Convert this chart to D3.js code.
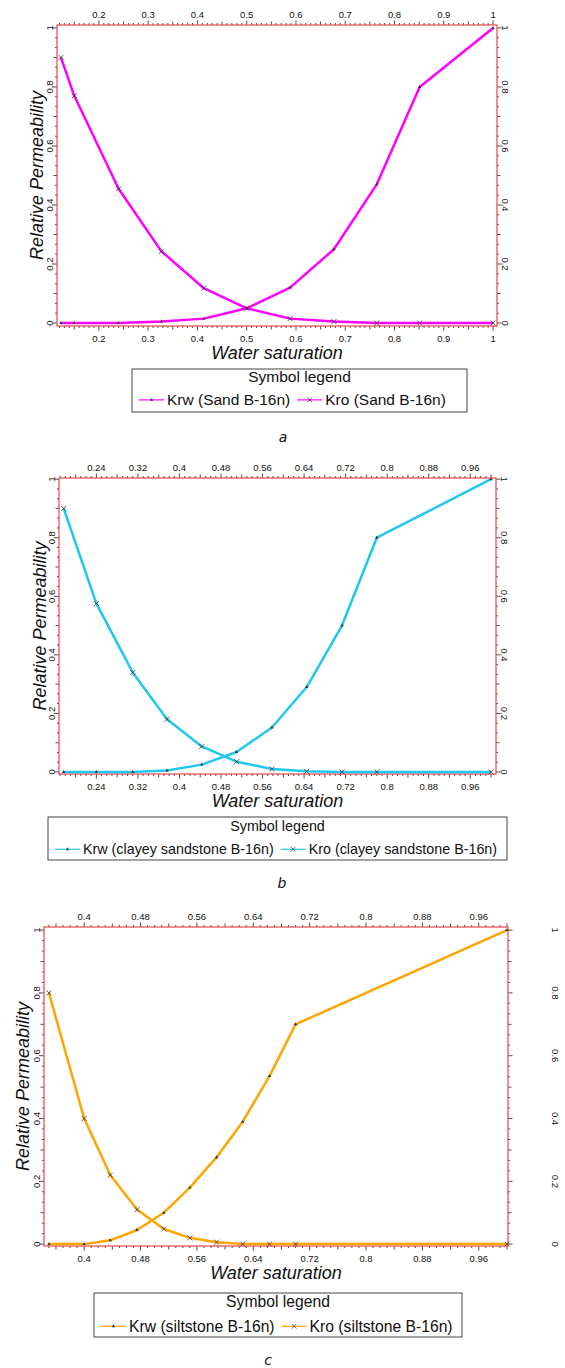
<!DOCTYPE html>
<html><head><meta charset="utf-8">
<script src="https://cdn.jsdelivr.net/npm/d3@7"></script>
<style>body{margin:0;background:#fff}svg{display:block}</style>
</head><body>
<script>
// ---- data ----
const swA  = [0.123,0.15,0.24,0.327,0.413,0.5,0.588,0.677,0.764,0.851,1.0];
const krwA = [0,0,0,0.005,0.015,0.05,0.12,0.25,0.47,0.8,1.0];
const kroA = [0.9,0.77,0.455,0.243,0.118,0.05,0.015,0.005,0,0,0];

const swB  = [0.177,0.24,0.31,0.376,0.443,0.51,0.578,0.645,0.713,0.78,1.0];
const krwB = [0,0,0,0.005,0.025,0.068,0.152,0.29,0.5,0.8,1.0];
const kroB = [0.9,0.575,0.34,0.18,0.087,0.035,0.01,0.002,0,0,0];

const swC  = [0.35,0.40,0.437,0.475,0.513,0.55,0.588,0.625,0.663,0.70,1.0];
const krwC = [0,0,0.012,0.045,0.1,0.18,0.277,0.39,0.535,0.70,1.0];
const kroC = [0.8,0.40,0.22,0.11,0.048,0.02,0.006,0,0,0,0];

const xTicksA = [0.2,0.3,0.4,0.5,0.6,0.7,0.8,0.9,1];
const xTicksB = [0.24,0.32,0.4,0.48,0.56,0.64,0.72,0.8,0.88,0.96];
const xTicksC = [0.4,0.48,0.56,0.64,0.72,0.8,0.88,0.96];
const yTicks = [0,0.2,0.4,0.6,0.8,1];
const namesA = ["Krw (Sand B-16n)","Kro (Sand B-16n)"];
const namesB = ["Krw (clayey sandstone B-16n)","Kro (clayey sandstone B-16n)"];
const namesC = ["Krw (siltstone B-16n)","Kro (siltstone B-16n)"];

const svg = d3.select("body").append("svg").attr("width",565).attr("height",1368);
const FONT = "'Liberation Sans', Arial, sans-serif";

function panel(cfg){
  const g = svg.append("g");
  const x = d3.scaleLinear().domain(cfg.xd).range([cfg.L,cfg.R]);
  const y = d3.scaleLinear().domain(cfg.yd).range([cfg.B,cfg.T]);
  const fmt = v => String(+v.toFixed(3));
  const [x0,x1] = cfg.xd;
  const minorX = d3.range(Math.ceil(x0*100), Math.floor(x1*100)+1).map(i=>i/100);
  const tk = g.append("g").attr("stroke","#222").attr("stroke-width",0.8);
  minorX.forEach(v=>{
    const isMaj = cfg.xt.some(t=>Math.abs(t-v)<1e-6);
    const isMed = !isMaj && Math.abs(v*cfg.medX - Math.round(v*cfg.medX))<1e-6;
    const len = isMaj?4.5:(isMed?3.5:2);
    tk.append("line").attr("x1",x(v)).attr("x2",x(v)).attr("y1",cfg.T).attr("y2",cfg.T-len);
    tk.append("line").attr("x1",x(v)).attr("x2",x(v)).attr("y1",cfg.B).attr("y2",cfg.B+len);
  });
  const minorY = d3.range(0,31).map(i=>i/30);
  minorY.forEach(v=>{
    const isMaj = Math.abs(v*5-Math.round(v*5))<1e-6;
    const isMed = !isMaj && Math.abs(v*10-Math.round(v*10))<1e-6;
    const len = isMaj?4.5:(isMed?3.5:2);
    tk.append("line").attr("y1",y(v)).attr("y2",y(v)).attr("x1",cfg.L).attr("x2",cfg.L-len);
    tk.append("line").attr("y1",y(v)).attr("y2",y(v)).attr("x1",cfg.R).attr("x2",cfg.R+len);
  });
  g.append("rect").attr("x",cfg.L).attr("y",cfg.T).attr("width",cfg.R-cfg.L).attr("height",cfg.B-cfg.T)
    .attr("fill","none").attr("stroke","#e8464b").attr("stroke-width",1.2);
  const lab = g.append("g").attr("font-family",FONT).attr("font-size",9.5).attr("fill","#111").attr("text-anchor","middle");
  cfg.xt.forEach(v=>{
    lab.append("text").attr("x",x(v)).attr("y",cfg.T-7).text(fmt(v));
    lab.append("text").attr("x",x(v)).attr("y",cfg.B+16).text(fmt(v));
  });
  yTicks.forEach(v=>{
    lab.append("text").attr("transform",`translate(${cfg.L-4},${y(v)}) rotate(-90)`).text(fmt(v));
    lab.append("text").attr("transform",`translate(${cfg.rightLabX},${y(v)}) rotate(90)`).text(fmt(v));
  });
  g.append("text").attr("x",(cfg.L+cfg.R)/2).attr("y",cfg.B+33).attr("text-anchor","middle")
    .attr("font-family",FONT).attr("font-size",18).attr("font-style","italic").attr("fill","#111").text("Water saturation");
  g.append("text").attr("transform",`translate(${cfg.yTitleX},${(cfg.T+cfg.B)/2}) rotate(-90)`).attr("text-anchor","middle")
    .attr("font-family",FONT).attr("font-size",18).attr("font-style","italic").attr("fill","#111").text("Relative Permeability");
  const line = d3.line().x(d=>x(d[0])).y(d=>y(d[1]));
  const dw = cfg.sw.map((s,i)=>[s,cfg.krw[i]]);
  const dor = cfg.sw.map((s,i)=>[s,cfg.kro[i]]);
  [dw,dor].forEach(d=>g.append("path").attr("d",line(d)).attr("fill","none").attr("stroke",cfg.color).attr("stroke-width",2.5).attr("stroke-linejoin","round"));
  dw.forEach(d=>g.append("path").attr("d",d3.symbol(d3.symbolTriangle,5)()).attr("transform",`translate(${x(d[0])},${y(d[1])})`).attr("fill","#333"));
  dor.forEach(d=>{
    const cx=x(d[0]), cy=y(d[1]), s=2.5;
    g.append("path").attr("d",`M${cx-s},${cy-s}L${cx+s},${cy+s}M${cx-s},${cy+s}L${cx+s},${cy-s}`).attr("stroke","#333").attr("stroke-width",0.8);
  });
  const lg = cfg.leg;
  g.append("rect").attr("x",lg.x).attr("y",lg.y).attr("width",lg.w).attr("height",lg.h).attr("fill","#fff").attr("stroke","#444").attr("stroke-width",1);
  g.append("text").attr("x",lg.x+lg.w/2).attr("y",lg.y+lg.b1).attr("text-anchor","middle").attr("font-family",FONT).attr("font-size",lg.fs).attr("fill","#111").text("Symbol legend");
  let cx = lg.x+7;
  cfg.names.forEach((n,i)=>{
    const ly = lg.y+lg.b2;
    const my = ly-lg.fs*0.33;
    g.append("line").attr("x1",cx).attr("x2",cx+25).attr("y1",my).attr("y2",my).attr("stroke",cfg.color).attr("stroke-width",1.2);
    if(i===0) g.append("path").attr("d",d3.symbol(d3.symbolTriangle,5)()).attr("transform",`translate(${cx+12.5},${my})`).attr("fill","#333");
    else { const s=2.2; g.append("path").attr("d",`M${cx+12.5-s},${my-s}L${cx+12.5+s},${my+s}M${cx+12.5-s},${my+s}L${cx+12.5+s},${my-s}`).attr("stroke","#333").attr("stroke-width",0.8); }
    const t = g.append("text").attr("x",cx+28).attr("y",ly).attr("font-family",FONT).attr("font-size",lg.fs).attr("fill","#111").text(n);
    cx += 28 + t.node().getComputedTextLength() + 7;
  });
  g.append("text").attr("x",cfg.letter[0]).attr("y",cfg.letter[1]).attr("text-anchor","middle").attr("font-family","'DejaVu Sans', sans-serif")
    .attr("font-size",14).attr("font-style","italic").attr("fill","#111").text(cfg.letterText);
}

panel({sw:swA,krw:krwA,kro:kroA,color:"#ff00ff",xd:[0.115,1.008],yd:[-0.01,1.01],L:57,R:497,T:25,B:326,xt:xTicksA,medX:20,
  rightLabX:502,yTitleX:43,names:namesA,leg:{x:132,y:369,w:335,h:43,fs:15.5,b1:13,b2:36},letter:[283,442],letterText:"a"});
panel({sw:swB,krw:krwB,kro:kroB,color:"#1ec8f0",xd:[0.168,1.0096],yd:[-0.007,1.004],L:59,R:496,T:478,B:774,xt:xTicksB,medX:25,
  rightLabX:501,yTitleX:46,names:namesB,leg:{x:48,y:817,w:459,h:43,fs:14.3,b1:13.5,b2:37},letter:[282,888],letterText:"b"});
panel({sw:swC,krw:krwC,kro:kroC,color:"#ffa500",xd:[0.343,1.0015],yd:[-0.006,1.01],L:44,R:508,T:927,B:1246,xt:xTicksC,medX:25,
  rightLabX:552,yTitleX:29,names:namesC,leg:{x:94,y:1293,w:368,h:44,fs:15.7,b1:14,b2:38.5},letter:[268,1365],letterText:"c"});
</script>
</body></html>
